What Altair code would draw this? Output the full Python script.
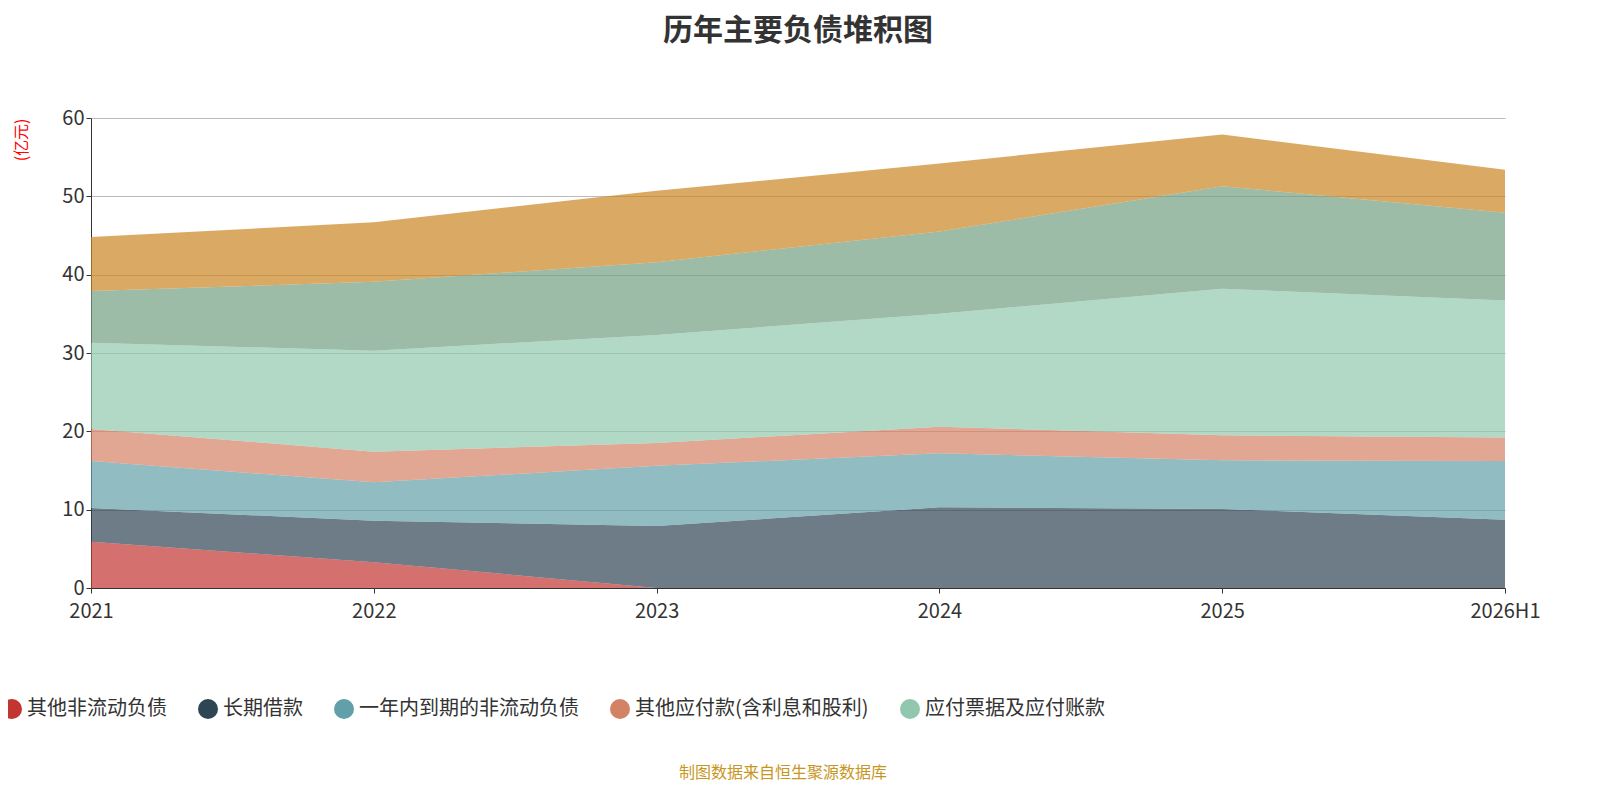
import pandas as pd
import altair as alt

years = ['2021', '2022', '2023', '2024', '2025', '2026H1']
series_names = ['其他非流动负债', '长期借款', '一年内到期的非流动负债',
                '其他应付款(含利息和股利)', '应付票据及应付账款', '合同负债', '短期借款']
colors = ['#c23531', '#2f4554', '#61a0a8', '#d48265', '#91c7ae', '#749f83', '#ca8622']

other_noncurrent = [5.9, 3.3, 0.0, 0.0, 0.0, 0.0]
long_term_loans = [4.3, 5.3, 7.9, 10.3, 10.1, 8.7]
due_within_year = [6.0, 4.9, 7.7, 6.9, 6.2, 7.5]
other_payables = [4.1, 3.9, 2.9, 3.4, 3.2, 3.0]
notes_accounts_payable = [11.0, 12.9, 13.8, 14.4, 18.7, 17.5]
contract_liabilities = [6.6, 8.8, 9.3, 10.5, 13.1, 11.2]
short_term_loans = [6.9, 7.6, 9.1, 8.7, 6.6, 5.5]

all_series = [other_noncurrent, long_term_loans, due_within_year, other_payables,
              notes_accounts_payable, contract_liabilities, short_term_loans]

rows = []
for i, (name, vals) in enumerate(zip(series_names, all_series)):
    for y, v in zip(years, vals):
        rows.append({'year': y, 'series': name, 'value': v, 'idx': i})
df = pd.DataFrame(rows)

font = 'Noto Sans CJK SC'

area = alt.Chart(df).mark_area(opacity=0.7, line=False).encode(
    x=alt.X('year:O', sort=years, title=None,
            scale=alt.Scale(type='point', padding=0),
            axis=alt.Axis(labelAngle=0, labelFontSize=20, labelColor='#333', domainColor='#333',
                          tickColor='#333', labelFont=font, grid=False, labelPadding=8,
                          labelAlign='center')),
    y=alt.Y('value:Q', stack='zero', title='(亿元)',
            scale=alt.Scale(domain=[0, 60]),
            axis=alt.Axis(values=[0, 10, 20, 30, 40, 50, 60], labelFontSize=20, labelColor='#333',
                          domainColor='#333', tickColor='#333', gridColor='#bbb',
                          titleColor='red', titleFontSize=16, titleFont=font,
                          titleFontWeight='normal', titleX=-62, titleY=0,
                          titleAlign='right', titleAngle=270, labelFont=font)),
    color=alt.Color('series:N', sort=series_names,
                    scale=alt.Scale(domain=series_names, range=colors),
                    legend=alt.Legend(orient='none', legendX=-90, legendY=120 + 470 - 10,
                                      direction='horizontal', title=None,
                                      values=series_names[:5],
                                      symbolType='circle', symbolSize=400,
                                      symbolOpacity=1, labelFontSize=20, labelFont=font,
                                      labelColor='#333', columnPadding=30, labelLimit=400)),
    order=alt.Order('idx:Q'),
)

footer = alt.Chart(pd.DataFrame({'t': ['制图数据来自恒生聚源数据库']})).mark_text(
    fontSize=16, color='#c8961e', font=font
).encode(text='t:N', x=alt.value(692), y=alt.value(655))

chart = alt.layer(area, footer).properties(
    width=1414, height=470,
    autosize=alt.AutoSizeParams(type='none'),
    padding={'left': 83, 'top': 110, 'right': 87, 'bottom': 200},
    title=alt.TitleParams('历年主要负债堆积图', fontSize=30, font=font, fontWeight='bold',
                          color='#333', offset=62, anchor='middle'),
).configure_view(stroke=None)

chart.save("out.html", embed_options={"renderer": "svg", "actions": False})
